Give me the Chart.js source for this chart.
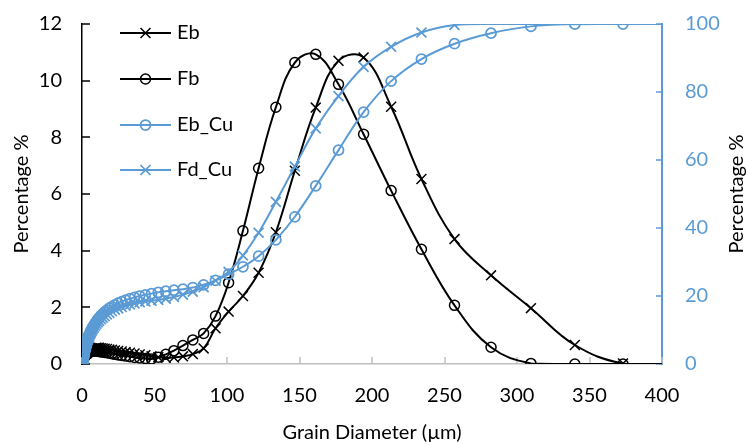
<!DOCTYPE html>
<html>
<head>
<meta charset="utf-8">
<script src="https://cdn.jsdelivr.net/npm/chart.js@4.4.1/dist/chart.umd.min.js"></script>
<style>
  html, body { margin: 0; padding: 0; background: #fff; }
  canvas { display: block; }
</style>
</head>
<body>
<canvas id="psdChart" width="746" height="445"></canvas>
<script>
// Size channels of the analyser (µm)
const sizes = [
  0.375, 0.412, 0.452, 0.496, 0.545, 0.598, 0.657, 0.721, 0.791, 0.869,
  0.954, 1.047, 1.149, 1.261, 1.385, 1.52, 1.669, 1.832, 2.011, 2.208,
  2.423, 2.66, 2.92, 3.206, 3.519, 3.862, 4.24, 4.655, 5.109, 5.608,
  6.157, 6.758, 7.419, 8.144, 8.94, 9.814, 10.77, 11.83, 12.98, 14.25,
  15.64, 17.17, 18.86, 20.7, 22.72, 24.94, 27.38, 30.07, 33.01, 36.24,
  39.78, 43.67, 47.94, 52.62, 57.77, 63.41, 69.61, 76.42, 83.89, 92.09,
  101.1, 111.0, 121.8, 133.7, 146.8, 161.2, 176.9, 194.2, 213.2, 234.1,
  256.9, 282.1, 309.6, 339.9, 373.1, 409.6,
];

// Volume % per channel (left axis)
const eb = [
  0.02, 0.04, 0.06, 0.08, 0.1, 0.12, 0.14, 0.16, 0.18, 0.2,
  0.22, 0.24, 0.26, 0.28, 0.3, 0.31, 0.32, 0.33, 0.34, 0.35,
  0.36, 0.37, 0.38, 0.39, 0.4, 0.42, 0.44, 0.46, 0.48, 0.5,
  0.52, 0.53, 0.54, 0.55, 0.56, 0.57, 0.57, 0.57, 0.56, 0.55,
  0.54, 0.53, 0.51, 0.5, 0.48, 0.46, 0.44, 0.42, 0.4, 0.37,
  0.34, 0.31, 0.27, 0.24, 0.22, 0.23, 0.27, 0.35, 0.55, 1.26,
  1.85, 2.4, 3.22, 4.65, 6.82, 9.05, 10.7, 10.82, 9.08, 6.53,
  4.41, 3.13, 1.97, 0.67, 0.02, 0,
];
const fb = [
  0.02, 0.04, 0.06, 0.08, 0.1, 0.12, 0.14, 0.16, 0.18, 0.2,
  0.22, 0.24, 0.26, 0.28, 0.29, 0.3, 0.31, 0.32, 0.33, 0.34,
  0.35, 0.36, 0.37, 0.38, 0.39, 0.4, 0.41, 0.42, 0.43, 0.44,
  0.45, 0.45, 0.46, 0.46, 0.46, 0.46, 0.45, 0.44, 0.43, 0.42,
  0.41, 0.4, 0.38, 0.36, 0.34, 0.32, 0.3, 0.28, 0.26, 0.23,
  0.21, 0.19, 0.18, 0.24, 0.34, 0.47, 0.65, 0.85, 1.08, 1.69,
  2.87, 4.7, 6.91, 9.06, 10.64, 10.93, 9.87, 8.11, 6.12, 4.05,
  2.07, 0.59, 0.02, 0, 0, 0,
];

// Cumulative % (right axis)
const ebCu = [
  0.1, 0.2, 0.35, 0.5, 0.65, 0.8, 1.0, 1.2, 1.4, 1.6,
  1.85, 2.1, 2.4, 2.7, 3.0, 3.3, 3.65, 4.0, 4.35, 4.7,
  5.1, 5.5, 5.9, 6.3, 6.75, 7.2, 7.65, 8.1, 8.6, 9.1,
  9.65, 10.2, 10.75, 11.3, 11.85, 12.45, 13.05, 13.65, 14.2, 14.75,
  15.3, 15.85, 16.4, 16.9, 17.4, 17.9, 18.35, 18.8, 19.2, 19.6,
  20.0, 20.35, 20.7, 21.1, 21.4, 21.7, 22.0, 22.5, 23.3, 24.6,
  26.4, 28.6, 31.7, 36.5, 43.3, 52.4, 62.9, 74.1, 83.2, 89.7,
  94.2, 97.3, 99.3, 99.95, 100, 100,
];
const fdCu = [
  0.1, 0.2, 0.3, 0.45, 0.6, 0.8, 0.95, 1.15, 1.35, 1.55,
  1.8, 2.05, 2.3, 2.55, 2.85, 3.2, 3.5, 3.85, 4.2, 4.6,
  4.95, 5.35, 5.75, 6.15, 6.6, 7.0, 7.45, 7.9, 8.35, 8.85,
  9.3, 9.8, 10.25, 10.75, 11.3, 11.75, 12.25, 12.7, 13.2, 13.65,
  14.1, 14.6, 15.05, 15.5, 15.95, 16.35, 16.75, 17.15, 17.5, 17.85,
  18.15, 18.4, 18.6, 18.85, 19.2, 19.7, 20.4, 21.3, 22.6, 24.5,
  27.1, 31.9, 38.6, 47.7, 58.1, 69.3, 78.8, 87.4, 93.3, 97.5,
  99.7, 100, 100, 100, 100, 100,
];

const xTicks = [0, 50, 100, 150, 200, 250, 300, 350, 400];
const leftTicks = [0, 2, 4, 6, 8, 10, 12];
const rightTicks = [0, 20, 40, 60, 80, 100];

const BLUE = "#5B9BD5";
const FONT = { family: "Lato", size: 20 };

const toPoints = (values) => sizes.map((x, i) => ({ x: x, y: values[i] }));

// Tick marks drawn on the inner side of each axis
const insideTicks = {
  id: "insideTicks",
  beforeDatasetsDraw(chart) {
    const { ctx, chartArea, scales } = chart;
    ctx.save();
    ctx.lineWidth = 1.5;
    ctx.strokeStyle = "#BFBFBF";
    xTicks.forEach((v) => {
      const px = Math.round(scales.x.getPixelForValue(v));
      ctx.beginPath();
      ctx.moveTo(px, chartArea.bottom);
      ctx.lineTo(px, chartArea.bottom - 7);
      ctx.stroke();
    });
    ctx.strokeStyle = "#000";
    leftTicks.forEach((v) => {
      const py = Math.round(scales.y.getPixelForValue(v));
      ctx.beginPath();
      ctx.moveTo(chartArea.left, py);
      ctx.lineTo(chartArea.left + 8, py);
      ctx.stroke();
    });
    ctx.strokeStyle = BLUE;
    rightTicks.forEach((v) => {
      const py = Math.round(scales.y1.getPixelForValue(v));
      ctx.beginPath();
      ctx.moveTo(chartArea.right, py);
      ctx.lineTo(chartArea.right - 6, py);
      ctx.stroke();
    });
    ctx.restore();
  },
};

// Legend in the upper left corner plus the right axis title
const legendAndTitle = {
  id: "legendAndTitle",
  afterDraw(chart) {
    const { ctx, chartArea } = chart;
    const rows = [33, 79, 125, 170];
    ctx.save();
    chart.data.datasets.forEach((ds, i) => {
      const y = rows[i];
      ctx.strokeStyle = ds.borderColor;
      ctx.lineWidth = ds.borderWidth;
      ctx.beginPath();
      ctx.moveTo(120, y);
      ctx.lineTo(171, y);
      ctx.stroke();
      ctx.lineWidth = ds.pointBorderWidth;
      ctx.beginPath();
      if (ds.pointStyle === "circle") {
        ctx.arc(145.5, y, 5, 0, Math.PI * 2);
      } else {
        const d = 5;
        ctx.moveTo(145.5 - d, y - d);
        ctx.lineTo(145.5 + d, y + d);
        ctx.moveTo(145.5 - d, y + d);
        ctx.lineTo(145.5 + d, y - d);
      }
      ctx.stroke();
      ctx.fillStyle = "#000";
      ctx.font = "20px Lato";
      ctx.textAlign = "left";
      ctx.textBaseline = "middle";
      ctx.fillText(ds.label, 177, y);
    });

    ctx.translate(737, (chartArea.top + chartArea.bottom) / 2);
    ctx.rotate(-Math.PI / 2);
    ctx.textAlign = "center";
    ctx.fillText("Percentage %", 0, 0);
    ctx.restore();
  },
};

const radiusInRange = (r, limit) => (c) => (c.raw && c.raw.x > limit ? 0 : r);

// Fixed axis widths so the plot area sits where it should
const fixVertical = (w) => (s) => {
  s.width = w;
  s.paddingTop = 0;
  s.paddingBottom = 0;
};

new Chart(document.getElementById("psdChart"), {
  type: "line",
  data: {
    datasets: [
      {
        label: "Eb",
        data: toPoints(eb),
        yAxisID: "y",
        borderColor: "#000",
        borderWidth: 2,
        pointStyle: "crossRot",
        pointRadius: radiusInRange(7, 400),
        pointBorderColor: "#000",
        pointBorderWidth: 1.5,
        tension: 0.4,
        order: 4,
      },
      {
        label: "Fb",
        data: toPoints(fb),
        yAxisID: "y",
        borderColor: "#000",
        borderWidth: 2,
        pointStyle: "circle",
        pointRadius: radiusInRange(5, 400),
        pointBorderColor: "#000",
        pointBackgroundColor: "rgba(0,0,0,0)",
        pointBorderWidth: 1.5,
        tension: 0.4,
        order: 3,
      },
      {
        label: "Eb_Cu",
        data: toPoints(ebCu),
        yAxisID: "y1",
        borderColor: BLUE,
        borderWidth: 2,
        pointStyle: "circle",
        pointRadius: radiusInRange(5, 400),
        pointBorderColor: BLUE,
        pointBackgroundColor: "rgba(0,0,0,0)",
        pointBorderWidth: 1.75,
        tension: 0.4,
        order: 2,
      },
      {
        label: "Fd_Cu",
        data: toPoints(fdCu),
        yAxisID: "y1",
        borderColor: BLUE,
        borderWidth: 2,
        pointStyle: "crossRot",
        pointRadius: radiusInRange(7, 260),
        pointBorderColor: BLUE,
        pointBorderWidth: 1.75,
        tension: 0.4,
        order: 1,
      },
    ],
  },
  options: {
    responsive: false,
    animation: false,
    events: [],
    layout: { padding: { top: 24, left: 0, right: 0, bottom: 0 } },
    plugins: {
      legend: { display: false },
      tooltip: { enabled: false },
    },
    scales: {
      x: {
        type: "linear",
        min: 0,
        max: 400,
        afterBuildTicks: (s) => {
          s.ticks = xTicks.map((v) => ({ value: v }));
        },
        grid: { drawOnChartArea: false, drawTicks: false },
        border: { display: true, color: "#BFBFBF", width: 1.5 },
        ticks: { color: "#000", font: FONT, padding: 20, maxRotation: 0 },
        title: {
          display: true,
          text: "Grain Diameter (µm)",
          color: "#000",
          font: FONT,
          padding: { top: 1, bottom: 0 },
        },
        afterFit: (s) => {
          s.height = 81;
        },
      },
      y: {
        position: "left",
        min: 0,
        max: 12,
        afterBuildTicks: (s) => {
          s.ticks = leftTicks.map((v) => ({ value: v }));
        },
        grid: { drawOnChartArea: false, drawTicks: false },
        border: { display: true, color: "#000", width: 1.5 },
        ticks: { color: "#000", font: FONT, padding: 20 },
        title: {
          display: true,
          text: "Percentage %",
          color: "#000",
          font: FONT,
          padding: { top: 10, bottom: 0 },
        },
        afterFit: fixVertical(82),
      },
      y1: {
        position: "right",
        min: 0,
        max: 100,
        afterBuildTicks: (s) => {
          s.ticks = rightTicks.map((v) => ({ value: v }));
        },
        grid: { drawOnChartArea: false, drawTicks: false },
        border: { display: true, color: BLUE, width: 2 },
        ticks: { color: BLUE, font: FONT, padding: 23 },
        afterFit: fixVertical(84),
      },
    },
  },
  plugins: [insideTicks, legendAndTitle],
});
</script>
</body>
</html>
